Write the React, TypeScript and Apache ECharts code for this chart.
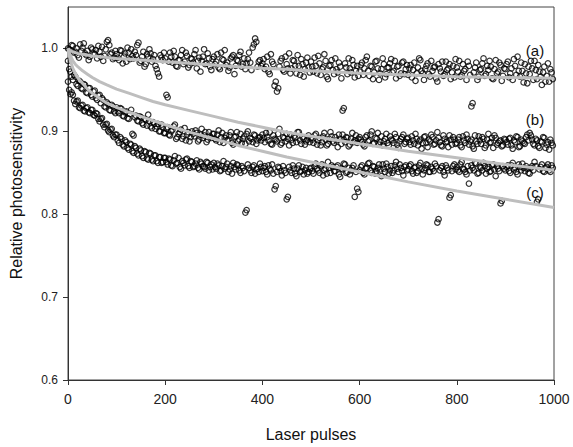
import React, { useEffect, useRef } from "react";
import * as echarts from "echarts";

// Sampling step of the measured points (laser pulses).
// First arrays: pulses 0, 5, 10 ... 995; second arrays: pulses 2.5, 7.5 ... 997.5
const STEP = 5;
const OFFSET2 = 2.5;

// Series (a) relative photosensitivity
const seriesA = [
  1.000, 0.998, 1.003, 0.996, 0.992, 1.005, 1.001, 0.994, 0.997, 0.990,
  0.999, 0.993, 0.988, 0.996, 1.002, 0.991, 1.008, 1.004, 0.995, 0.989,
  0.993, 0.986, 0.997, 0.990, 0.984, 0.995, 0.999, 0.988, 0.992, 1.007,
  0.985, 0.996, 0.981, 0.990, 0.994, 0.987, 0.979, 0.970, 0.992, 0.986,
  0.988, 0.941, 0.995, 0.983, 0.990, 0.978, 0.986, 0.998, 0.984, 0.991,
  0.980, 0.987, 0.993, 0.976, 0.989, 0.985, 0.999, 0.982, 0.988, 0.974,
  0.990, 0.984, 0.977, 0.995, 0.986, 0.980, 0.973, 0.988, 0.992, 0.979,
  0.985, 0.996, 0.981, 0.975, 0.987, 0.983, 1.001, 1.012, 0.978, 0.986,
  0.982, 0.975, 0.990, 0.969, 0.984, 0.955, 0.948, 0.978, 0.988, 0.972,
  0.981, 0.994, 0.976, 0.985, 0.970, 0.979, 0.987, 0.966, 0.983, 0.977,
  0.984, 0.972, 0.979, 0.991, 0.968, 0.977, 0.985, 0.963, 0.980, 0.974,
  0.988, 0.971, 0.978, 0.925, 0.982, 0.969, 0.976, 0.986, 0.965, 0.979,
  0.972, 0.983, 0.976, 0.990, 0.967, 0.978, 0.971, 0.985, 0.962, 0.975,
  0.981, 0.969, 0.977, 0.987, 0.973, 0.964, 0.979, 0.970, 0.984, 0.975,
  0.968, 0.980, 0.974, 0.961, 0.977, 0.986, 0.970, 0.975, 0.982, 0.966,
  0.973, 0.978, 0.960, 0.976, 0.984, 0.969, 0.974, 0.981, 0.971, 0.965,
  0.977, 0.985, 0.968, 0.973, 0.962, 0.979, 0.930, 0.971, 0.983, 0.966,
  0.975, 0.988, 0.969, 0.974, 0.978, 0.963, 0.986, 0.972, 0.980, 0.967,
  0.975, 0.984, 0.970, 0.962, 0.979, 0.990, 0.966, 0.973, 0.981, 0.958,
  0.969, 0.976, 0.985, 0.963, 0.972, 0.956, 0.978, 0.967, 0.960, 0.971,
];
const seriesA2 = [
  0.999, 1.004, 0.995, 1.000, 0.989, 0.997, 1.006, 0.992, 0.986, 1.001,
  0.994, 0.998, 1.003, 0.990, 0.985, 0.999, 1.010, 0.993, 0.987, 0.997,
  0.989, 0.998, 0.982, 0.994, 1.001, 0.987, 0.991, 0.996, 1.004, 0.983,
  0.990, 0.978, 0.993, 0.999, 0.984, 0.992, 0.975, 0.966, 0.989, 0.995,
  0.944, 0.984, 0.990, 0.997, 0.979, 0.986, 0.992, 0.981, 0.995, 0.977,
  0.988, 0.983, 0.998, 0.985, 0.972, 0.990, 0.981, 0.994, 0.978, 0.987,
  0.981, 0.993, 0.975, 0.987, 0.998, 0.983, 0.977, 0.990, 0.969, 0.986,
  0.992, 0.978, 0.988, 0.982, 0.995, 0.974, 1.005, 1.008, 0.984, 0.979,
  0.987, 0.978, 0.972, 0.993, 0.981, 0.960, 0.952, 0.985, 0.974, 0.990,
  0.976, 0.970, 0.986, 0.979, 0.992, 0.968, 0.981, 0.975, 0.989, 0.971,
  0.978, 0.989, 0.970, 0.982, 0.975, 0.993, 0.966, 0.979, 0.986, 0.969,
  0.975, 0.983, 0.964, 0.928, 0.977, 0.988, 0.971, 0.980, 0.973, 0.967,
  0.980, 0.968, 0.986, 0.973, 0.979, 0.963, 0.984, 0.976, 0.970, 0.988,
  0.965, 0.977, 0.982, 0.971, 0.985, 0.978, 0.967, 0.983, 0.969, 0.980,
  0.976, 0.965, 0.983, 0.970, 0.988, 0.973, 0.962, 0.979, 0.969, 0.985,
  0.977, 0.964, 0.981, 0.972, 0.967, 0.984, 0.976, 0.963, 0.979, 0.987,
  0.972, 0.966, 0.981, 0.975, 0.984, 0.968, 0.934, 0.977, 0.962, 0.974,
  0.982, 0.967, 0.979, 0.985, 0.964, 0.975, 0.970, 0.983, 0.961, 0.976,
  0.981, 0.965, 0.976, 0.987, 0.968, 0.973, 0.983, 0.959, 0.970, 0.978,
  0.985, 0.962, 0.974, 0.980, 0.966, 0.971, 0.960, 0.982, 0.975, 0.963,
];

// Series (b)
const seriesB = [
  0.985, 0.972, 0.962, 0.966, 0.955, 0.960, 0.951, 0.956, 0.946, 0.952,
  0.942, 0.949, 0.938, 0.944, 0.940, 0.930, 0.935, 0.926, 0.932, 0.924,
  0.929, 0.922, 0.927, 0.918, 0.924, 0.915, 0.926, 0.895, 0.919, 0.912,
  0.917, 0.908, 0.914, 0.920, 0.906, 0.911, 0.903, 0.909, 0.900, 0.905,
  0.898, 0.905, 0.895, 0.902, 0.908, 0.893, 0.899, 0.891, 0.904, 0.896,
  0.888, 0.900, 0.894, 0.898, 0.890, 0.903, 0.895, 0.887, 0.899, 0.892,
  0.897, 0.889, 0.901, 0.893, 0.886, 0.895, 0.890, 0.899, 0.884, 0.894,
  0.888, 0.897, 0.891, 0.885, 0.900, 0.892, 0.887, 0.895, 0.889, 0.893,
  0.896, 0.887, 0.893, 0.899, 0.884, 0.891, 0.888, 0.903, 0.886, 0.892,
  0.897, 0.883, 0.890, 0.894, 0.887, 0.899, 0.885, 0.891, 0.888, 0.895,
  0.892, 0.886, 0.897, 0.889, 0.883, 0.894, 0.890, 0.885, 0.899, 0.888,
  0.893, 0.881, 0.891, 0.896, 0.887, 0.892, 0.884, 0.898, 0.889, 0.886,
  0.893, 0.887, 0.882, 0.895, 0.889, 0.900, 0.886, 0.891, 0.884, 0.894,
  0.888, 0.897, 0.883, 0.890, 0.886, 0.893, 0.880, 0.891, 0.896, 0.887,
  0.892, 0.884, 0.889, 0.897, 0.883, 0.890, 0.886, 0.894, 0.881, 0.888,
  0.893, 0.885, 0.899, 0.887, 0.882, 0.891, 0.888, 0.895, 0.884, 0.890,
  0.886, 0.893, 0.881, 0.889, 0.896, 0.884, 0.890, 0.879, 0.888, 0.894,
  0.885, 0.891, 0.883, 0.897, 0.887, 0.880, 0.892, 0.886, 0.889, 0.883,
  0.890, 0.884, 0.892, 0.879, 0.887, 0.893, 0.882, 0.888, 0.885, 0.896,
  0.898, 0.890, 0.883, 0.889, 0.880, 0.887, 0.892, 0.884, 0.878, 0.886,
];
const seriesB2 = [
  0.975, 0.966, 0.968, 0.957, 0.961, 0.952, 0.957, 0.947, 0.952, 0.944,
  0.948, 0.940, 0.943, 0.934, 0.938, 0.929, 0.933, 0.925, 0.930, 0.922,
  0.924, 0.928, 0.919, 0.923, 0.916, 0.921, 0.897, 0.917, 0.913, 0.918,
  0.910, 0.915, 0.907, 0.912, 0.904, 0.909, 0.906, 0.900, 0.908, 0.898,
  0.903, 0.896, 0.900, 0.906, 0.891, 0.897, 0.902, 0.894, 0.889, 0.899,
  0.893, 0.897, 0.901, 0.888, 0.896, 0.892, 0.899, 0.890, 0.894, 0.897,
  0.891, 0.896, 0.887, 0.898, 0.892, 0.889, 0.895, 0.886, 0.893, 0.899,
  0.890, 0.886, 0.894, 0.897, 0.888, 0.891, 0.896, 0.885, 0.892, 0.889,
  0.892, 0.898, 0.889, 0.885, 0.895, 0.890, 0.897, 0.884, 0.893, 0.888,
  0.891, 0.896, 0.886, 0.892, 0.899, 0.889, 0.893, 0.884, 0.890, 0.887,
  0.890, 0.895, 0.884, 0.892, 0.887, 0.898, 0.883, 0.891, 0.894, 0.886,
  0.889, 0.896, 0.885, 0.890, 0.893, 0.882, 0.891, 0.887, 0.895, 0.891,
  0.890, 0.884, 0.893, 0.888, 0.896, 0.885, 0.892, 0.898, 0.887, 0.883,
  0.891, 0.886, 0.894, 0.889, 0.897, 0.884, 0.888, 0.893, 0.885, 0.891,
  0.887, 0.894, 0.885, 0.891, 0.888, 0.879, 0.893, 0.886, 0.890, 0.896,
  0.884, 0.889, 0.892, 0.883, 0.895, 0.887, 0.881, 0.890, 0.893, 0.885,
  0.890, 0.883, 0.894, 0.886, 0.891, 0.888, 0.882, 0.895, 0.885, 0.889,
  0.893, 0.880, 0.890, 0.886, 0.892, 0.895, 0.884, 0.888, 0.882, 0.891,
  0.887, 0.891, 0.883, 0.889, 0.894, 0.881, 0.890, 0.886, 0.893, 0.889,
  0.895, 0.885, 0.891, 0.882, 0.888, 0.893, 0.880, 0.887, 0.890, 0.883,
];

// Series (c)
const seriesC = [
  0.960, 0.945, 0.944, 0.933, 0.937, 0.928, 0.932, 0.924, 0.929, 0.922,
  0.926, 0.919, 0.921, 0.912, 0.916, 0.905, 0.909, 0.899, 0.903, 0.893,
  0.896, 0.886, 0.891, 0.882, 0.887, 0.878, 0.884, 0.874, 0.880, 0.871,
  0.877, 0.868, 0.875, 0.866, 0.873, 0.864, 0.871, 0.862, 0.869, 0.863,
  0.868, 0.860, 0.866, 0.858, 0.870, 0.862, 0.857, 0.864, 0.859, 0.867,
  0.856, 0.863, 0.858, 0.865, 0.854, 0.861, 0.857, 0.863, 0.853, 0.860,
  0.862, 0.855, 0.859, 0.853, 0.864, 0.857, 0.851, 0.858, 0.862, 0.854,
  0.859, 0.850, 0.856, 0.802, 0.860, 0.853, 0.857, 0.849, 0.855, 0.861,
  0.852, 0.858, 0.848, 0.855, 0.860, 0.830, 0.851, 0.856, 0.847, 0.853,
  0.818, 0.857, 0.850, 0.855, 0.846, 0.859, 0.852, 0.848, 0.856, 0.851,
  0.856, 0.849, 0.861, 0.853, 0.858, 0.847, 0.855, 0.863, 0.850, 0.857,
  0.852, 0.859, 0.845, 0.854, 0.860, 0.851, 0.848, 0.856, 0.821, 0.831,
  0.853, 0.859, 0.848, 0.856, 0.862, 0.850, 0.857, 0.852, 0.860, 0.846,
  0.855, 0.861, 0.849, 0.858, 0.853, 0.863, 0.851, 0.856, 0.847, 0.859,
  0.854, 0.860, 0.849, 0.857, 0.852, 0.862, 0.848, 0.856, 0.859, 0.851,
  0.855, 0.861, 0.790, 0.853, 0.858, 0.847, 0.856, 0.820, 0.852, 0.860,
  0.857, 0.851, 0.863, 0.854, 0.848, 0.837, 0.859, 0.853, 0.861, 0.850,
  0.856, 0.862, 0.849, 0.857, 0.852, 0.860, 0.846, 0.855, 0.813, 0.858,
  0.853, 0.859, 0.850, 0.862, 0.856, 0.848, 0.857, 0.861, 0.852, 0.855,
  0.849, 0.858, 0.863, 0.815, 0.854, 0.860, 0.851, 0.857, 0.853, 0.859,
];
const seriesC2 = [
  0.950, 0.947, 0.937, 0.936, 0.929, 0.931, 0.925, 0.928, 0.923, 0.926,
  0.920, 0.922, 0.915, 0.915, 0.908, 0.908, 0.901, 0.902, 0.895, 0.896,
  0.889, 0.893, 0.884, 0.889, 0.880, 0.885, 0.876, 0.882, 0.873, 0.879,
  0.870, 0.876, 0.867, 0.874, 0.866, 0.871, 0.864, 0.869, 0.862, 0.868,
  0.863, 0.867, 0.859, 0.865, 0.861, 0.868, 0.855, 0.862, 0.866, 0.858,
  0.864, 0.857, 0.861, 0.856, 0.863, 0.858, 0.855, 0.862, 0.857, 0.854,
  0.857, 0.861, 0.852, 0.858, 0.855, 0.861, 0.854, 0.849, 0.857, 0.860,
  0.853, 0.858, 0.852, 0.805, 0.856, 0.850, 0.859, 0.854, 0.851, 0.857,
  0.856, 0.851, 0.859, 0.853, 0.849, 0.834, 0.857, 0.852, 0.858, 0.850,
  0.821, 0.853, 0.859, 0.849, 0.855, 0.851, 0.857, 0.853, 0.849, 0.855,
  0.852, 0.858, 0.855, 0.850, 0.860, 0.853, 0.849, 0.856, 0.859, 0.852,
  0.857, 0.848, 0.855, 0.861, 0.850, 0.856, 0.853, 0.859, 0.851, 0.827,
  0.857, 0.850, 0.855, 0.861, 0.853, 0.858, 0.849, 0.856, 0.854, 0.860,
  0.851, 0.857, 0.853, 0.850, 0.859, 0.855, 0.860, 0.852, 0.857, 0.853,
  0.858, 0.852, 0.856, 0.850, 0.859, 0.855, 0.853, 0.860, 0.851, 0.857,
  0.852, 0.858, 0.794, 0.856, 0.851, 0.859, 0.853, 0.823, 0.858, 0.854,
  0.853, 0.860, 0.855, 0.851, 0.858, 0.853, 0.856, 0.862, 0.849, 0.857,
  0.853, 0.858, 0.855, 0.851, 0.859, 0.854, 0.858, 0.852, 0.816, 0.855,
  0.857, 0.852, 0.859, 0.854, 0.851, 0.860, 0.853, 0.856, 0.858, 0.850,
  0.856, 0.853, 0.858, 0.818, 0.857, 0.852, 0.856, 0.860, 0.851, 0.856,
];

// Fitted curves (gray lines)
const fitX = [0, 3, 6, 10, 15, 20, 30, 40, 50, 65, 80, 100, 125, 150, 175, 200, 250, 300, 350, 400, 450, 500, 600, 700, 800, 900, 1000];
const fitA = [1.000, 0.998, 0.997, 0.996, 0.995, 0.994, 0.993, 0.992, 0.991, 0.990, 0.989, 0.988, 0.987, 0.986, 0.985, 0.984, 0.982, 0.980, 0.978, 0.976, 0.975, 0.973, 0.970, 0.968, 0.966, 0.965, 0.964];
const fitUpper = [1.000, 0.994, 0.990, 0.985, 0.981, 0.978, 0.973, 0.969, 0.965, 0.960, 0.956, 0.951, 0.946, 0.941, 0.936, 0.932, 0.925, 0.918, 0.911, 0.905, 0.899, 0.894, 0.885, 0.876, 0.868, 0.860, 0.853];
const fitLower = [1.000, 0.990, 0.983, 0.976, 0.970, 0.965, 0.958, 0.951, 0.946, 0.940, 0.934, 0.929, 0.923, 0.918, 0.913, 0.908, 0.899, 0.891, 0.883, 0.876, 0.869, 0.863, 0.851, 0.839, 0.828, 0.818, 0.808];

const xTicks = [0, 200, 400, 600, 800, 1000];
const yTicks = [0.6, 0.7, 0.8, 0.9, 1.0];
const curveLabels = ["(a)", "(b)", "(c)"];

const FONT = "'Liberation Sans', Arial, sans-serif";

export default function App() {
  const ref = useRef<HTMLDivElement>(null);
  useEffect(() => {
    if (!ref.current) return;
    const chart = echarts.init(ref.current, null, { renderer: "svg" });
    const pts = (a1: number[], a2: number[]) => [
      ...a1.map((v, i) => [i * STEP, v]),
      ...a2.map((v, i) => [i * STEP + OFFSET2, v]),
    ];
    const fit = (arr: number[]) => arr.map((v, i) => [fitX[i], v]);
    const scatterStyle = {
      type: "scatter",
      symbol: "circle",
      symbolSize: 5.5,
      itemStyle: { color: "rgba(255,255,255,0)", borderColor: "#000", borderWidth: 1.2 },
      silent: true,
      large: false,
      z: 2,
    };
    const lineStyle = {
      type: "line",
      showSymbol: false,
      smooth: false,
      lineStyle: { color: "#bebebe", width: 3 },
      silent: true,
      z: 3,
    };
    const labelStyle = { font: `15px ${FONT}`, fill: "#111", align: "center", verticalAlign: "middle" };
    chart.setOption({
      animation: false,
      backgroundColor: "#fff",
      textStyle: { fontFamily: FONT },
      grid: {
        left: 67,
        right: 19,
        top: 7,
        bottom: 66,
        show: true,
        borderColor: "#444",
        borderWidth: 1,
        backgroundColor: "transparent",
      },
      xAxis: {
        type: "value",
        min: 0,
        max: 1000,
        interval: 200,
        name: "Laser pulses",
        nameLocation: "middle",
        nameGap: 46,
        nameTextStyle: { fontSize: 16, color: "#111", fontFamily: FONT },
        axisLine: { show: true, lineStyle: { color: "#333", width: 1 } },
        axisTick: { show: true, length: 5, lineStyle: { color: "#333" }, customValues: xTicks },
        axisLabel: {
          fontSize: 14,
          color: "#222",
          margin: 12,
          customValues: xTicks,
          fontFamily: FONT,
          formatter: (v: number) => String(v),
        },
        splitLine: { show: false },
      },
      yAxis: {
        type: "value",
        min: 0.6,
        max: 1.05,
        name: "Relative photosensitivity",
        nameLocation: "middle",
        nameGap: 44,
        nameRotate: 90,
        nameTextStyle: { fontSize: 16, color: "#111", fontFamily: FONT },
        axisLine: { show: true, lineStyle: { color: "#333", width: 1 } },
        axisTick: { show: true, length: 5, lineStyle: { color: "#333" }, customValues: yTicks },
        axisLabel: {
          fontSize: 12,
          color: "#222",
          margin: 10,
          customValues: yTicks,
          fontFamily: FONT,
          formatter: (v: number) => v.toFixed(1),
        },
        splitLine: { show: false },
      },
      series: [
        { ...scatterStyle, name: "a", data: pts(seriesA, seriesA2) },
        { ...scatterStyle, name: "b", data: pts(seriesB, seriesB2) },
        { ...scatterStyle, name: "c", data: pts(seriesC, seriesC2) },
        { ...lineStyle, name: "fitA", data: fit(fitA) },
        { ...lineStyle, name: "fitUpper", data: fit(fitUpper) },
        { ...lineStyle, name: "fitLower", data: fit(fitLower) },
      ],
      graphic: [
        { type: "text", x: 535, y: 50, style: { text: curveLabels[0], ...labelStyle } },
        { type: "text", x: 535, y: 119, style: { text: curveLabels[1], ...labelStyle } },
        { type: "text", x: 535, y: 192, style: { text: curveLabels[2], ...labelStyle } },
      ],
    });
    return () => chart.dispose();
  }, []);
  return (
    <div
      ref={ref}
      style={{ position: "absolute", left: 0, top: 0, width: 573, height: 447, background: "#fff" }}
    />
  );
}
